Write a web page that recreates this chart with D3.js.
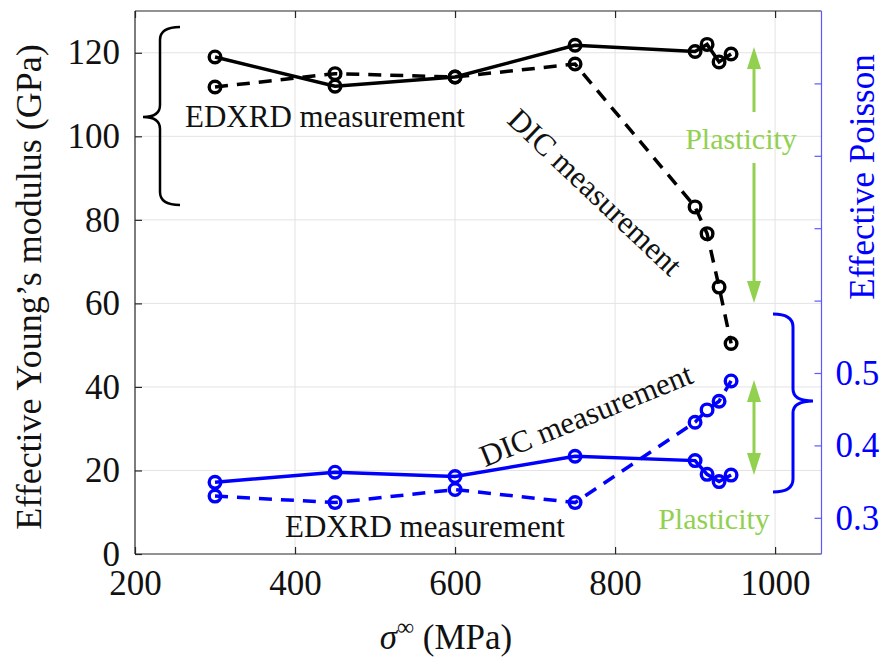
<!DOCTYPE html>
<html><head><meta charset="utf-8">
<script src="https://cdn.jsdelivr.net/npm/d3@7"></script>
<style>body{margin:0;background:#fff}svg{display:block}text{font-family:"Liberation Serif","Times New Roman",serif}</style>
</head><body>
<svg id="c" width="882" height="659"></svg>
<script>
// ---- data ----
const stress = [300, 450, 600, 750, 900, 915, 930, 945];
const youngEDXRD = [119.0, 112.0, 114.2, 121.8, 120.3, 122.0, 117.8, 119.7];
const youngDIC = [111.8, 115.0, 114.2, 117.3, 83.1, 76.7, 63.9, 50.4];
const poissonEDXRD = [0.349, 0.363, 0.357, 0.385, 0.379, 0.360, 0.350, 0.359];
const poissonDIC = [0.330, 0.321, 0.339, 0.321, 0.432, 0.449, 0.461, 0.489];
const xTicks = [200, 400, 600, 800, 1000];
const yTicks = [0, 20, 40, 60, 80, 100, 120];
const y2Ticks = [0.3, 0.4, 0.5, 0.6, 0.7, 0.8, 0.9];
const y2Labels = [0.3, 0.4, 0.5];

const svg = d3.select("#c");
const L = 135, R = 821.5, T = 11, B = 554;
const x = d3.scaleLinear().domain([200, 1058]).range([L, R]);
const y = d3.scaleLinear().domain([0, 130]).range([B, T]);
const y2 = d3.scaleLinear().domain([0.25, 1.0]).range([B, T]);
const BLUE = "#0000ff", GREEN = "#92d050", AX = "#262626";
const FS = 35;

// grid
svg.append("g").selectAll("line").data(xTicks.slice(1)).join("line")
  .attr("x1", d => x(d)).attr("x2", d => x(d)).attr("y1", T).attr("y2", B)
  .attr("stroke", "#e3e3e3").attr("stroke-width", 1);
svg.append("g").selectAll("line").data(yTicks.slice(1)).join("line")
  .attr("x1", L).attr("x2", R).attr("y1", d => y(d)).attr("y2", d => y(d))
  .attr("stroke", "#e3e3e3").attr("stroke-width", 1);

// axes
const xAxis = svg.append("g").attr("transform", `translate(0,${B})`)
  .call(d3.axisBottom(x).tickValues(xTicks).tickSize(-7).tickPadding(16).tickFormat(d3.format("d")));
const xTop = svg.append("g").attr("transform", `translate(0,${T})`)
  .call(d3.axisTop(x).tickValues(xTicks).tickSize(-7).tickFormat(""));
const yAxis = svg.append("g").attr("transform", `translate(${L},0)`)
  .call(d3.axisLeft(y).tickValues(yTicks).tickSize(-7).tickPadding(15).tickFormat(d3.format("d")));
const y2Axis = svg.append("g").attr("transform", `translate(${R},0)`)
  .call(d3.axisRight(y2).tickValues(y2Ticks).tickSize(-7).tickPadding(14)
    .tickFormat(d => y2Labels.includes(d) ? d3.format(".1f")(d) : ""));
[xAxis, xTop, yAxis].forEach(g => {
  g.select(".domain").attr("stroke", AX).attr("stroke-width", 1.2);
  g.selectAll(".tick line").attr("stroke", AX).attr("stroke-width", 1.2);
  g.selectAll(".tick text").attr("fill", "#111").attr("font-size", FS)
    .attr("font-family", "Liberation Serif");
});
xTop.select(".domain").attr("d", `M${L},0H${R}`);
xAxis.select(".domain").attr("d", `M${L},0H${R}`);
yAxis.select(".domain").attr("d", `M0,${B}V${T}`);
xAxis.selectAll(".tick text").attr("dy", "0.71em");
y2Axis.select(".domain").attr("stroke", "#5a5aff").attr("stroke-width", 1.2).attr("d", `M0,${B}V${T}`);
y2Axis.selectAll(".tick line").attr("stroke", "#5a5aff").attr("stroke-width", 1.2);
y2Axis.selectAll(".tick text").attr("fill", BLUE).attr("font-size", FS)
  .attr("font-family", "Liberation Serif");

// series
function series(vals, ys, color, dashed) {
  const pts = stress.map((s, i) => [x(s), ys(vals[i])]);
  svg.append("path").attr("d", d3.line()(pts)).attr("fill", "none")
    .attr("stroke", color).attr("stroke-width", 3.5)
    .attr("stroke-dasharray", dashed ? "13,9" : null);
  svg.append("g").selectAll("circle").data(pts).join("circle")
    .attr("cx", d => d[0]).attr("cy", d => d[1]).attr("r", 5.8)
    .attr("fill", "none").attr("stroke", color).attr("stroke-width", 3.4);
}
series(youngDIC, y, "#000", true);
series(youngEDXRD, y, "#000", false);
series(poissonDIC, y2, BLUE, true);
series(poissonEDXRD, y2, BLUE, false);

// braces
svg.append("path")
  .attr("d", "M180,27 Q160,27 160,40 L160,105 Q160,117 143,117 Q160,117 160,129 L160,192 Q160,205 180,205")
  .attr("fill", "none").attr("stroke", "#000").attr("stroke-width", 2.5);
svg.append("path")
  .attr("d", "M773,314 Q793,314 793,327 L793,389 Q793,401 813,401 Q793,401 793,413 L793,479 Q793,492 773,492")
  .attr("fill", "none").attr("stroke", BLUE).attr("stroke-width", 3);

// green arrows
function arrow(x0, yFrom, yTo) {
  const dir = yTo > yFrom ? 1 : -1, hl = 22, hw = 7;
  svg.append("line").attr("x1", x0).attr("x2", x0).attr("y1", yFrom).attr("y2", yTo - dir * hl)
    .attr("stroke", GREEN).attr("stroke-width", 3);
  svg.append("path").attr("d", `M${x0},${yTo} L${x0 - hw},${yTo - dir * hl} L${x0 + hw},${yTo - dir * hl}Z`)
    .attr("fill", GREEN);
}
arrow(754, 112, 47);
arrow(754, 163, 303);
arrow(754, 428, 380);
arrow(754, 428, 475);

// annotation text
function txt(s, xx, yy, opts = {}) {
  const t = svg.append("text").attr("x", xx).attr("y", yy).text(s)
    .attr("font-size", opts.size || 31).attr("fill", opts.color || "#111")
    .attr("text-anchor", opts.anchor || "start");
  if (opts.rot !== undefined) t.attr("transform", `rotate(${opts.rot},${xx},${yy})`).attr("dominant-baseline", "central");
  return t;
}
txt("EDXRD measurement", 185, 127);
txt("EDXRD measurement", 285, 537);
txt("DIC measurement", 595, 192, { anchor: "middle", rot: 43.5 });
txt("DIC measurement", 586, 415, { anchor: "middle", rot: -22 });
txt("Plasticity", 741, 149, { anchor: "middle", color: GREEN, size: 30 });
txt("Plasticity", 714, 529, { anchor: "middle", color: GREEN, size: 30 });

// axis labels
svg.append("text").attr("transform", "translate(41,287) rotate(-90)")
  .attr("text-anchor", "middle").attr("font-size", 36).attr("fill", "#111")
  .text("Effective Young’s modulus (GPa)");
svg.append("text").attr("transform", "translate(874,177) rotate(-90)")
  .attr("text-anchor", "middle").attr("font-size", 35).attr("fill", BLUE)
  .text("Effective Poisson");
const xl = svg.append("text").attr("x", 446).attr("y", 649).attr("text-anchor", "middle")
  .attr("font-size", 35).attr("fill", "#111");
xl.append("tspan").attr("font-style", "italic").text("σ");
xl.append("tspan").attr("font-size", 24).attr("dy", -14).text("∞");
xl.append("tspan").attr("dy", 14).text(" (MPa)");
</script>
</body></html>
